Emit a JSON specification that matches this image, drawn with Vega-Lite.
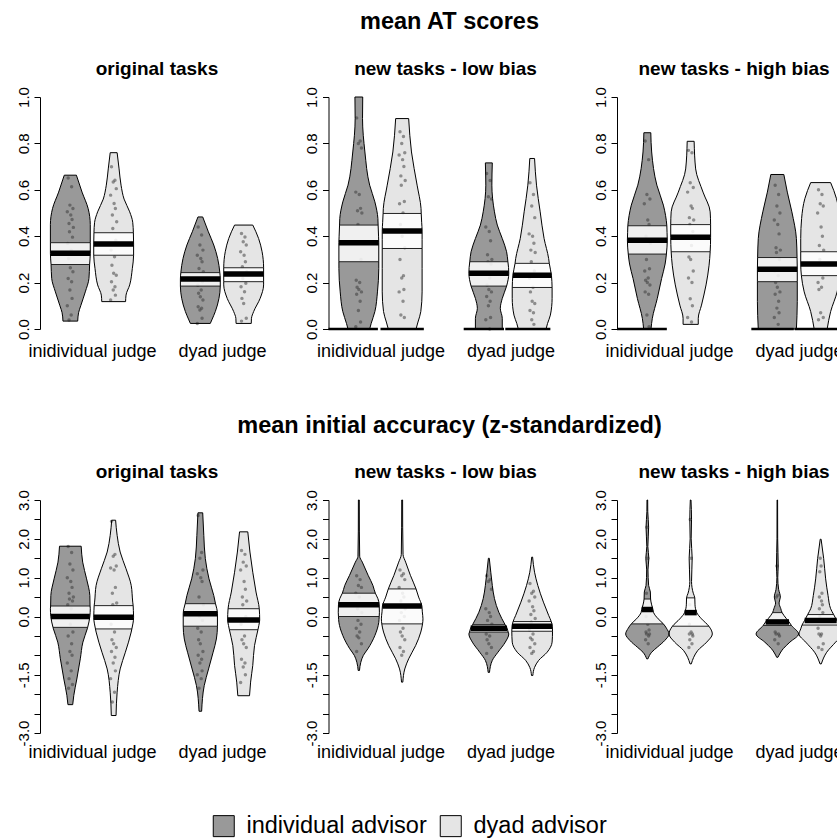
{
"$schema": "https://vega.github.io/schema/vega-lite/v6.json",
"padding": {"left": 16, "top": 9, "right": -14, "bottom": 0},
"background": "white",
"datasets": {"d": [
{"s":"A","p":"o","c":1,"a":"i","y":0.034,"l":0.83,"r":1.17,"k":"o"},
{"s":"A","p":"o","c":1,"a":"i","y":0.07,"l":0.81,"r":1.19,"k":"o"},
{"s":"A","p":"o","c":1,"a":"i","y":0.1,"l":0.76,"r":1.24,"k":"o"},
{"s":"A","p":"o","c":1,"a":"i","y":0.16,"l":0.655,"r":1.345,"k":"o"},
{"s":"A","p":"o","c":1,"a":"i","y":0.218,"l":0.57,"r":1.43,"k":"o"},
{"s":"A","p":"o","c":1,"a":"i","y":0.278,"l":0.555,"r":1.445,"k":"e"},
{"s":"A","p":"o","c":1,"a":"i","y":0.326,"l":0.54,"r":1.46,"k":"m"},
{"s":"A","p":"o","c":1,"a":"i","y":0.372,"l":0.54,"r":1.46,"k":"e"},
{"s":"A","p":"o","c":1,"a":"i","y":0.45,"l":0.54,"r":1.46,"k":"o"},
{"s":"A","p":"o","c":1,"a":"i","y":0.52,"l":0.59,"r":1.41,"k":"o"},
{"s":"A","p":"o","c":1,"a":"i","y":0.59,"l":0.73,"r":1.27,"k":"o"},
{"s":"A","p":"o","c":1,"a":"i","y":0.663,"l":0.86,"r":1.14,"k":"o"},
{"s":"A","p":"o","c":2,"a":"d","y":0.118,"l":1.725,"r":2.275,"k":"o"},
{"s":"A","p":"o","c":2,"a":"d","y":0.146,"l":1.715,"r":2.285,"k":"o"},
{"s":"A","p":"o","c":2,"a":"d","y":0.19,"l":1.63,"r":2.37,"k":"o"},
{"s":"A","p":"o","c":2,"a":"d","y":0.26,"l":1.57,"r":2.43,"k":"o"},
{"s":"A","p":"o","c":2,"a":"d","y":0.318,"l":1.54,"r":2.46,"k":"e"},
{"s":"A","p":"o","c":2,"a":"d","y":0.366,"l":1.54,"r":2.46,"k":"m"},
{"s":"A","p":"o","c":2,"a":"d","y":0.415,"l":1.545,"r":2.455,"k":"e"},
{"s":"A","p":"o","c":2,"a":"d","y":0.46,"l":1.56,"r":2.44,"k":"o"},
{"s":"A","p":"o","c":2,"a":"d","y":0.505,"l":1.63,"r":2.37,"k":"o"},
{"s":"A","p":"o","c":2,"a":"d","y":0.56,"l":1.76,"r":2.24,"k":"o"},
{"s":"A","p":"o","c":2,"a":"d","y":0.62,"l":1.83,"r":2.17,"k":"o"},
{"s":"A","p":"o","c":2,"a":"d","y":0.69,"l":1.875,"r":2.125,"k":"o"},
{"s":"A","p":"o","c":2,"a":"d","y":0.76,"l":1.92,"r":2.08,"k":"o"},
{"s":"A","p":"o","c":4,"a":"i","y":0.024,"l":3.77,"r":4.23,"k":"o"},
{"s":"A","p":"o","c":4,"a":"i","y":0.039,"l":3.735,"r":4.265,"k":"o"},
{"s":"A","p":"o","c":4,"a":"i","y":0.075,"l":3.655,"r":4.345,"k":"o"},
{"s":"A","p":"o","c":4,"a":"i","y":0.132,"l":3.57,"r":4.43,"k":"o"},
{"s":"A","p":"o","c":4,"a":"i","y":0.185,"l":3.54,"r":4.46,"k":"e"},
{"s":"A","p":"o","c":4,"a":"i","y":0.215,"l":3.54,"r":4.46,"k":"m"},
{"s":"A","p":"o","c":4,"a":"i","y":0.243,"l":3.55,"r":4.45,"k":"e"},
{"s":"A","p":"o","c":4,"a":"i","y":0.304,"l":3.6,"r":4.4,"k":"o"},
{"s":"A","p":"o","c":4,"a":"i","y":0.362,"l":3.69,"r":4.31,"k":"o"},
{"s":"A","p":"o","c":4,"a":"i","y":0.419,"l":3.815,"r":4.185,"k":"o"},
{"s":"A","p":"o","c":4,"a":"i","y":0.483,"l":3.945,"r":4.055,"k":"o"},
{"s":"A","p":"o","c":5,"a":"d","y":0.024,"l":4.825,"r":5.175,"k":"o"},
{"s":"A","p":"o","c":5,"a":"d","y":0.046,"l":4.82,"r":5.18,"k":"o"},
{"s":"A","p":"o","c":5,"a":"d","y":0.075,"l":4.77,"r":5.23,"k":"o"},
{"s":"A","p":"o","c":5,"a":"d","y":0.132,"l":4.62,"r":5.38,"k":"o"},
{"s":"A","p":"o","c":5,"a":"d","y":0.19,"l":4.54,"r":5.46,"k":"o"},
{"s":"A","p":"o","c":5,"a":"d","y":0.204,"l":4.54,"r":5.46,"k":"e"},
{"s":"A","p":"o","c":5,"a":"d","y":0.237,"l":4.54,"r":5.46,"k":"m"},
{"s":"A","p":"o","c":5,"a":"d","y":0.264,"l":4.54,"r":5.46,"k":"e"},
{"s":"A","p":"o","c":5,"a":"d","y":0.333,"l":4.575,"r":5.425,"k":"o"},
{"s":"A","p":"o","c":5,"a":"d","y":0.39,"l":4.655,"r":5.345,"k":"o"},
{"s":"A","p":"o","c":5,"a":"d","y":0.448,"l":4.79,"r":5.21,"k":"o"},
{"s":"A","p":"l","c":1,"a":"i","y":0.0,"l":0.75,"r":1.25,"k":"o"},
{"s":"A","p":"l","c":1,"a":"i","y":0.024,"l":0.715,"r":1.285,"k":"o"},
{"s":"A","p":"l","c":1,"a":"i","y":0.075,"l":0.63,"r":1.37,"k":"o"},
{"s":"A","p":"l","c":1,"a":"i","y":0.16,"l":0.57,"r":1.43,"k":"o"},
{"s":"A","p":"l","c":1,"a":"i","y":0.26,"l":0.54,"r":1.46,"k":"o"},
{"s":"A","p":"l","c":1,"a":"i","y":0.29,"l":0.54,"r":1.46,"k":"e"},
{"s":"A","p":"l","c":1,"a":"i","y":0.372,"l":0.54,"r":1.46,"k":"m"},
{"s":"A","p":"l","c":1,"a":"i","y":0.4,"l":0.545,"r":1.455,"k":"i"},
{"s":"A","p":"l","c":1,"a":"i","y":0.448,"l":0.555,"r":1.445,"k":"e"},
{"s":"A","p":"l","c":1,"a":"i","y":0.476,"l":0.56,"r":1.44,"k":"o"},
{"s":"A","p":"l","c":1,"a":"i","y":0.548,"l":0.63,"r":1.37,"k":"o"},
{"s":"A","p":"l","c":1,"a":"i","y":0.62,"l":0.75,"r":1.25,"k":"o"},
{"s":"A","p":"l","c":1,"a":"i","y":0.763,"l":0.86,"r":1.14,"k":"o"},
{"s":"A","p":"l","c":1,"a":"i","y":0.907,"l":0.915,"r":1.085,"k":"o"},
{"s":"A","p":"l","c":1,"a":"i","y":1.0,"l":0.91,"r":1.09,"k":"o"},
{"s":"A","p":"l","c":2,"a":"d","y":0.0,"l":1.68,"r":2.32,"k":"o"},
{"s":"A","p":"l","c":2,"a":"d","y":0.03,"l":1.635,"r":2.365,"k":"o"},
{"s":"A","p":"l","c":2,"a":"d","y":0.075,"l":1.57,"r":2.43,"k":"o"},
{"s":"A","p":"l","c":2,"a":"d","y":0.16,"l":1.54,"r":2.46,"k":"o"},
{"s":"A","p":"l","c":2,"a":"d","y":0.26,"l":1.54,"r":2.46,"k":"o"},
{"s":"A","p":"l","c":2,"a":"d","y":0.347,"l":1.54,"r":2.46,"k":"e"},
{"s":"A","p":"l","c":2,"a":"d","y":0.385,"l":1.54,"r":2.46,"k":"i"},
{"s":"A","p":"l","c":2,"a":"d","y":0.422,"l":1.54,"r":2.46,"k":"m"},
{"s":"A","p":"l","c":2,"a":"d","y":0.46,"l":1.55,"r":2.45,"k":"i"},
{"s":"A","p":"l","c":2,"a":"d","y":0.498,"l":1.56,"r":2.44,"k":"e"},
{"s":"A","p":"l","c":2,"a":"d","y":0.52,"l":1.565,"r":2.435,"k":"o"},
{"s":"A","p":"l","c":2,"a":"d","y":0.62,"l":1.655,"r":2.345,"k":"o"},
{"s":"A","p":"l","c":2,"a":"d","y":0.763,"l":1.785,"r":2.215,"k":"o"},
{"s":"A","p":"l","c":2,"a":"d","y":0.907,"l":1.85,"r":2.15,"k":"o"},
{"s":"A","p":"l","c":4,"a":"i","y":0.0,"l":3.69,"r":4.31,"k":"o"},
{"s":"A","p":"l","c":4,"a":"i","y":0.046,"l":3.69,"r":4.31,"k":"o"},
{"s":"A","p":"l","c":4,"a":"i","y":0.089,"l":3.735,"r":4.265,"k":"o"},
{"s":"A","p":"l","c":4,"a":"i","y":0.132,"l":3.69,"r":4.31,"k":"o"},
{"s":"A","p":"l","c":4,"a":"i","y":0.185,"l":3.59,"r":4.41,"k":"e"},
{"s":"A","p":"l","c":4,"a":"i","y":0.24,"l":3.54,"r":4.46,"k":"m"},
{"s":"A","p":"l","c":4,"a":"i","y":0.265,"l":3.545,"r":4.455,"k":"i"},
{"s":"A","p":"l","c":4,"a":"i","y":0.29,"l":3.56,"r":4.44,"k":"e"},
{"s":"A","p":"l","c":4,"a":"i","y":0.333,"l":3.59,"r":4.41,"k":"o"},
{"s":"A","p":"l","c":4,"a":"i","y":0.39,"l":3.69,"r":4.31,"k":"o"},
{"s":"A","p":"l","c":4,"a":"i","y":0.448,"l":3.805,"r":4.195,"k":"o"},
{"s":"A","p":"l","c":4,"a":"i","y":0.505,"l":3.87,"r":4.13,"k":"o"},
{"s":"A","p":"l","c":4,"a":"i","y":0.62,"l":3.93,"r":4.07,"k":"o"},
{"s":"A","p":"l","c":4,"a":"i","y":0.716,"l":3.92,"r":4.08,"k":"o"},
{"s":"A","p":"l","c":5,"a":"d","y":0.0,"l":4.68,"r":5.32,"k":"o"},
{"s":"A","p":"l","c":5,"a":"d","y":0.024,"l":4.645,"r":5.355,"k":"o"},
{"s":"A","p":"l","c":5,"a":"d","y":0.06,"l":4.58,"r":5.42,"k":"o"},
{"s":"A","p":"l","c":5,"a":"d","y":0.132,"l":4.54,"r":5.46,"k":"o"},
{"s":"A","p":"l","c":5,"a":"d","y":0.179,"l":4.54,"r":5.46,"k":"e"},
{"s":"A","p":"l","c":5,"a":"d","y":0.205,"l":4.545,"r":5.455,"k":"i"},
{"s":"A","p":"l","c":5,"a":"d","y":0.232,"l":4.555,"r":5.445,"k":"m"},
{"s":"A","p":"l","c":5,"a":"d","y":0.258,"l":4.58,"r":5.42,"k":"i"},
{"s":"A","p":"l","c":5,"a":"d","y":0.283,"l":4.605,"r":5.395,"k":"e"},
{"s":"A","p":"l","c":5,"a":"d","y":0.304,"l":4.62,"r":5.38,"k":"o"},
{"s":"A","p":"l","c":5,"a":"d","y":0.39,"l":4.725,"r":5.275,"k":"o"},
{"s":"A","p":"l","c":5,"a":"d","y":0.505,"l":4.815,"r":5.185,"k":"o"},
{"s":"A","p":"l","c":5,"a":"d","y":0.62,"l":4.9,"r":5.1,"k":"o"},
{"s":"A","p":"l","c":5,"a":"d","y":0.735,"l":4.945,"r":5.055,"k":"o"},
{"s":"A","p":"h","c":1,"a":"i","y":0.0,"l":0.915,"r":1.085,"k":"o"},
{"s":"A","p":"h","c":1,"a":"i","y":0.046,"l":0.885,"r":1.115,"k":"o"},
{"s":"A","p":"h","c":1,"a":"i","y":0.132,"l":0.77,"r":1.23,"k":"o"},
{"s":"A","p":"h","c":1,"a":"i","y":0.218,"l":0.67,"r":1.33,"k":"o"},
{"s":"A","p":"h","c":1,"a":"i","y":0.28,"l":0.59,"r":1.41,"k":"o"},
{"s":"A","p":"h","c":1,"a":"i","y":0.323,"l":0.56,"r":1.44,"k":"e"},
{"s":"A","p":"h","c":1,"a":"i","y":0.383,"l":0.54,"r":1.46,"k":"m"},
{"s":"A","p":"h","c":1,"a":"i","y":0.415,"l":0.545,"r":1.455,"k":"i"},
{"s":"A","p":"h","c":1,"a":"i","y":0.445,"l":0.55,"r":1.45,"k":"e"},
{"s":"A","p":"h","c":1,"a":"i","y":0.49,"l":0.58,"r":1.42,"k":"o"},
{"s":"A","p":"h","c":1,"a":"i","y":0.534,"l":0.63,"r":1.37,"k":"o"},
{"s":"A","p":"h","c":1,"a":"i","y":0.62,"l":0.78,"r":1.22,"k":"o"},
{"s":"A","p":"h","c":1,"a":"i","y":0.763,"l":0.9,"r":1.1,"k":"o"},
{"s":"A","p":"h","c":1,"a":"i","y":0.846,"l":0.92,"r":1.08,"k":"o"},
{"s":"A","p":"h","c":2,"a":"d","y":0.02,"l":1.825,"r":2.175,"k":"o"},
{"s":"A","p":"h","c":2,"a":"d","y":0.046,"l":1.825,"r":2.175,"k":"o"},
{"s":"A","p":"h","c":2,"a":"d","y":0.103,"l":1.75,"r":2.25,"k":"o"},
{"s":"A","p":"h","c":2,"a":"d","y":0.19,"l":1.645,"r":2.355,"k":"o"},
{"s":"A","p":"h","c":2,"a":"d","y":0.275,"l":1.575,"r":2.425,"k":"o"},
{"s":"A","p":"h","c":2,"a":"d","y":0.333,"l":1.55,"r":2.45,"k":"e"},
{"s":"A","p":"h","c":2,"a":"d","y":0.395,"l":1.54,"r":2.46,"k":"m"},
{"s":"A","p":"h","c":2,"a":"d","y":0.45,"l":1.54,"r":2.46,"k":"e"},
{"s":"A","p":"h","c":2,"a":"d","y":0.505,"l":1.55,"r":2.45,"k":"o"},
{"s":"A","p":"h","c":2,"a":"d","y":0.59,"l":1.715,"r":2.285,"k":"o"},
{"s":"A","p":"h","c":2,"a":"d","y":0.69,"l":1.885,"r":2.115,"k":"o"},
{"s":"A","p":"h","c":2,"a":"d","y":0.809,"l":1.92,"r":2.08,"k":"o"},
{"s":"A","p":"h","c":4,"a":"i","y":0.0,"l":3.56,"r":4.44,"k":"o"},
{"s":"A","p":"h","c":4,"a":"i","y":0.118,"l":3.54,"r":4.46,"k":"o"},
{"s":"A","p":"h","c":4,"a":"i","y":0.204,"l":3.54,"r":4.46,"k":"e"},
{"s":"A","p":"h","c":4,"a":"i","y":0.258,"l":3.54,"r":4.46,"k":"m"},
{"s":"A","p":"h","c":4,"a":"i","y":0.308,"l":3.545,"r":4.455,"k":"e"},
{"s":"A","p":"h","c":4,"a":"i","y":0.39,"l":3.56,"r":4.44,"k":"o"},
{"s":"A","p":"h","c":4,"a":"i","y":0.505,"l":3.665,"r":4.335,"k":"o"},
{"s":"A","p":"h","c":4,"a":"i","y":0.59,"l":3.77,"r":4.23,"k":"o"},
{"s":"A","p":"h","c":4,"a":"i","y":0.666,"l":3.85,"r":4.15,"k":"o"},
{"s":"A","p":"h","c":5,"a":"d","y":0.0,"l":4.85,"r":5.15,"k":"o"},
{"s":"A","p":"h","c":5,"a":"d","y":0.075,"l":4.77,"r":5.23,"k":"o"},
{"s":"A","p":"h","c":5,"a":"d","y":0.16,"l":4.62,"r":5.38,"k":"o"},
{"s":"A","p":"h","c":5,"a":"d","y":0.23,"l":4.555,"r":5.445,"k":"e"},
{"s":"A","p":"h","c":5,"a":"d","y":0.28,"l":4.54,"r":5.46,"k":"m"},
{"s":"A","p":"h","c":5,"a":"d","y":0.333,"l":4.54,"r":5.46,"k":"e"},
{"s":"A","p":"h","c":5,"a":"d","y":0.39,"l":4.54,"r":5.46,"k":"o"},
{"s":"A","p":"h","c":5,"a":"d","y":0.476,"l":4.56,"r":5.44,"k":"o"},
{"s":"A","p":"h","c":5,"a":"d","y":0.562,"l":4.635,"r":5.365,"k":"o"},
{"s":"A","p":"h","c":5,"a":"d","y":0.631,"l":4.77,"r":5.23,"k":"o"},
{"s":"Z","p":"o","c":1,"a":"i","y":-2.27,"l":0.945,"r":1.055,"k":"o"},
{"s":"Z","p":"o","c":1,"a":"i","y":-2.03,"l":0.92,"r":1.08,"k":"o"},
{"s":"Z","p":"o","c":1,"a":"i","y":-1.61,"l":0.85,"r":1.15,"k":"o"},
{"s":"Z","p":"o","c":1,"a":"i","y":-1.09,"l":0.77,"r":1.23,"k":"o"},
{"s":"Z","p":"o","c":1,"a":"i","y":-0.66,"l":0.71,"r":1.29,"k":"o"},
{"s":"Z","p":"o","c":1,"a":"i","y":-0.32,"l":0.61,"r":1.39,"k":"o"},
{"s":"Z","p":"o","c":1,"a":"i","y":-0.28,"l":0.6,"r":1.4,"k":"e"},
{"s":"Z","p":"o","c":1,"a":"i","y":0.0,"l":0.55,"r":1.45,"k":"m"},
{"s":"Z","p":"o","c":1,"a":"i","y":0.2,"l":0.54,"r":1.46,"k":"i"},
{"s":"Z","p":"o","c":1,"a":"i","y":0.27,"l":0.545,"r":1.455,"k":"e"},
{"s":"Z","p":"o","c":1,"a":"i","y":0.54,"l":0.55,"r":1.45,"k":"o"},
{"s":"Z","p":"o","c":1,"a":"i","y":0.97,"l":0.625,"r":1.375,"k":"o"},
{"s":"Z","p":"o","c":1,"a":"i","y":1.4,"l":0.715,"r":1.285,"k":"o"},
{"s":"Z","p":"o","c":1,"a":"i","y":1.81,"l":0.75,"r":1.25,"k":"o"},
{"s":"Z","p":"o","c":2,"a":"d","y":-2.55,"l":1.945,"r":2.055,"k":"o"},
{"s":"Z","p":"o","c":2,"a":"d","y":-1.95,"l":1.92,"r":2.08,"k":"o"},
{"s":"Z","p":"o","c":2,"a":"d","y":-1.35,"l":1.85,"r":2.15,"k":"o"},
{"s":"Z","p":"o","c":2,"a":"d","y":-0.92,"l":1.73,"r":2.27,"k":"o"},
{"s":"Z","p":"o","c":2,"a":"d","y":-0.4,"l":1.595,"r":2.405,"k":"o"},
{"s":"Z","p":"o","c":2,"a":"d","y":-0.32,"l":1.58,"r":2.42,"k":"e"},
{"s":"Z","p":"o","c":2,"a":"d","y":-0.02,"l":1.54,"r":2.46,"k":"m"},
{"s":"Z","p":"o","c":2,"a":"d","y":0.15,"l":1.545,"r":2.455,"k":"i"},
{"s":"Z","p":"o","c":2,"a":"d","y":0.28,"l":1.55,"r":2.45,"k":"e"},
{"s":"Z","p":"o","c":2,"a":"d","y":0.37,"l":1.56,"r":2.44,"k":"o"},
{"s":"Z","p":"o","c":2,"a":"d","y":0.8,"l":1.595,"r":2.405,"k":"o"},
{"s":"Z","p":"o","c":2,"a":"d","y":1.23,"l":1.715,"r":2.285,"k":"o"},
{"s":"Z","p":"o","c":2,"a":"d","y":1.66,"l":1.85,"r":2.15,"k":"o"},
{"s":"Z","p":"o","c":2,"a":"d","y":2.09,"l":1.92,"r":2.08,"k":"o"},
{"s":"Z","p":"o","c":2,"a":"d","y":2.48,"l":1.955,"r":2.045,"k":"o"},
{"s":"Z","p":"o","c":4,"a":"i","y":-2.44,"l":3.97,"r":4.03,"k":"o"},
{"s":"Z","p":"o","c":4,"a":"i","y":-1.78,"l":3.91,"r":4.09,"k":"o"},
{"s":"Z","p":"o","c":4,"a":"i","y":-1.35,"l":3.81,"r":4.19,"k":"o"},
{"s":"Z","p":"o","c":4,"a":"i","y":-0.92,"l":3.705,"r":4.295,"k":"o"},
{"s":"Z","p":"o","c":4,"a":"i","y":-0.58,"l":3.63,"r":4.37,"k":"o"},
{"s":"Z","p":"o","c":4,"a":"i","y":-0.25,"l":3.605,"r":4.395,"k":"e"},
{"s":"Z","p":"o","c":4,"a":"i","y":0.07,"l":3.605,"r":4.395,"k":"m"},
{"s":"Z","p":"o","c":4,"a":"i","y":0.2,"l":3.62,"r":4.38,"k":"i"},
{"s":"Z","p":"o","c":4,"a":"i","y":0.33,"l":3.65,"r":4.35,"k":"e"},
{"s":"Z","p":"o","c":4,"a":"i","y":0.54,"l":3.69,"r":4.31,"k":"o"},
{"s":"Z","p":"o","c":4,"a":"i","y":0.97,"l":3.8,"r":4.2,"k":"o"},
{"s":"Z","p":"o","c":4,"a":"i","y":1.49,"l":3.885,"r":4.115,"k":"o"},
{"s":"Z","p":"o","c":4,"a":"i","y":2.09,"l":3.92,"r":4.08,"k":"o"},
{"s":"Z","p":"o","c":4,"a":"i","y":2.67,"l":3.945,"r":4.055,"k":"o"},
{"s":"Z","p":"o","c":5,"a":"d","y":-2.04,"l":4.865,"r":5.135,"k":"o"},
{"s":"Z","p":"o","c":5,"a":"d","y":-1.69,"l":4.84,"r":5.16,"k":"o"},
{"s":"Z","p":"o","c":5,"a":"d","y":-1.26,"l":4.79,"r":5.21,"k":"o"},
{"s":"Z","p":"o","c":5,"a":"d","y":-0.75,"l":4.75,"r":5.25,"k":"o"},
{"s":"Z","p":"o","c":5,"a":"d","y":-0.34,"l":4.67,"r":5.33,"k":"e"},
{"s":"Z","p":"o","c":5,"a":"d","y":-0.23,"l":4.65,"r":5.35,"k":"i"},
{"s":"Z","p":"o","c":5,"a":"d","y":-0.09,"l":4.63,"r":5.37,"k":"m"},
{"s":"Z","p":"o","c":5,"a":"d","y":0.2,"l":4.64,"r":5.36,"k":"e"},
{"s":"Z","p":"o","c":5,"a":"d","y":0.63,"l":4.715,"r":5.285,"k":"o"},
{"s":"Z","p":"o","c":5,"a":"d","y":1.14,"l":4.79,"r":5.21,"k":"o"},
{"s":"Z","p":"o","c":5,"a":"d","y":1.66,"l":4.855,"r":5.145,"k":"o"},
{"s":"Z","p":"o","c":5,"a":"d","y":2.18,"l":4.905,"r":5.095,"k":"o"},
{"s":"Z","p":"l","c":1,"a":"i","y":-1.39,"l":0.985,"r":1.015,"k":"o"},
{"s":"Z","p":"l","c":1,"a":"i","y":-1.18,"l":0.955,"r":1.045,"k":"o"},
{"s":"Z","p":"l","c":1,"a":"i","y":-1.0,"l":0.895,"r":1.105,"k":"o"},
{"s":"Z","p":"l","c":1,"a":"i","y":-0.83,"l":0.79,"r":1.21,"k":"o"},
{"s":"Z","p":"l","c":1,"a":"i","y":-0.49,"l":0.63,"r":1.37,"k":"o"},
{"s":"Z","p":"l","c":1,"a":"i","y":-0.15,"l":0.54,"r":1.46,"k":"o"},
{"s":"Z","p":"l","c":1,"a":"i","y":0.0,"l":0.53,"r":1.47,"k":"e"},
{"s":"Z","p":"l","c":1,"a":"i","y":0.11,"l":0.525,"r":1.475,"k":"i"},
{"s":"Z","p":"l","c":1,"a":"i","y":0.3,"l":0.53,"r":1.47,"k":"m"},
{"s":"Z","p":"l","c":1,"a":"i","y":0.46,"l":0.56,"r":1.44,"k":"i"},
{"s":"Z","p":"l","c":1,"a":"i","y":0.6,"l":0.62,"r":1.38,"k":"e"},
{"s":"Z","p":"l","c":1,"a":"i","y":0.8,"l":0.675,"r":1.325,"k":"o"},
{"s":"Z","p":"l","c":1,"a":"i","y":1.06,"l":0.785,"r":1.215,"k":"o"},
{"s":"Z","p":"l","c":1,"a":"i","y":1.4,"l":0.92,"r":1.08,"k":"o"},
{"s":"Z","p":"l","c":1,"a":"i","y":1.55,"l":0.98,"r":1.02,"k":"o"},
{"s":"Z","p":"l","c":1,"a":"i","y":2.2,"l":0.988,"r":1.012,"k":"o"},
{"s":"Z","p":"l","c":1,"a":"i","y":3.0,"l":0.99,"r":1.01,"k":"o"},
{"s":"Z","p":"l","c":2,"a":"d","y":-1.69,"l":1.985,"r":2.015,"k":"o"},
{"s":"Z","p":"l","c":2,"a":"d","y":-1.35,"l":1.94,"r":2.06,"k":"o"},
{"s":"Z","p":"l","c":2,"a":"d","y":-1.09,"l":1.85,"r":2.15,"k":"o"},
{"s":"Z","p":"l","c":2,"a":"d","y":-0.75,"l":1.69,"r":2.31,"k":"o"},
{"s":"Z","p":"l","c":2,"a":"d","y":-0.4,"l":1.57,"r":2.43,"k":"o"},
{"s":"Z","p":"l","c":2,"a":"d","y":-0.19,"l":1.53,"r":2.47,"k":"e"},
{"s":"Z","p":"l","c":2,"a":"d","y":-0.06,"l":1.52,"r":2.48,"k":"i"},
{"s":"Z","p":"l","c":2,"a":"d","y":0.12,"l":1.535,"r":2.465,"k":"i"},
{"s":"Z","p":"l","c":2,"a":"d","y":0.27,"l":1.545,"r":2.455,"k":"m"},
{"s":"Z","p":"l","c":2,"a":"d","y":0.5,"l":1.62,"r":2.38,"k":"i"},
{"s":"Z","p":"l","c":2,"a":"d","y":0.71,"l":1.68,"r":2.32,"k":"e"},
{"s":"Z","p":"l","c":2,"a":"d","y":1.06,"l":1.81,"r":2.19,"k":"o"},
{"s":"Z","p":"l","c":2,"a":"d","y":1.4,"l":1.92,"r":2.08,"k":"o"},
{"s":"Z","p":"l","c":2,"a":"d","y":1.6,"l":1.98,"r":2.02,"k":"o"},
{"s":"Z","p":"l","c":2,"a":"d","y":2.3,"l":1.988,"r":2.012,"k":"o"},
{"s":"Z","p":"l","c":2,"a":"d","y":3.0,"l":1.99,"r":2.01,"k":"o"},
{"s":"Z","p":"l","c":4,"a":"i","y":-1.44,"l":3.985,"r":4.015,"k":"o"},
{"s":"Z","p":"l","c":4,"a":"i","y":-1.13,"l":3.92,"r":4.08,"k":"o"},
{"s":"Z","p":"l","c":4,"a":"i","y":-0.92,"l":3.79,"r":4.21,"k":"o"},
{"s":"Z","p":"l","c":4,"a":"i","y":-0.66,"l":3.62,"r":4.38,"k":"o"},
{"s":"Z","p":"l","c":4,"a":"i","y":-0.45,"l":3.54,"r":4.46,"k":"o"},
{"s":"Z","p":"l","c":4,"a":"i","y":-0.4,"l":3.555,"r":4.445,"k":"e"},
{"s":"Z","p":"l","c":4,"a":"i","y":-0.3,"l":3.58,"r":4.42,"k":"m"},
{"s":"Z","p":"l","c":4,"a":"i","y":-0.21,"l":3.625,"r":4.375,"k":"e"},
{"s":"Z","p":"l","c":4,"a":"i","y":0.11,"l":3.77,"r":4.23,"k":"o"},
{"s":"Z","p":"l","c":4,"a":"i","y":0.46,"l":3.87,"r":4.13,"k":"o"},
{"s":"Z","p":"l","c":4,"a":"i","y":0.8,"l":3.92,"r":4.08,"k":"o"},
{"s":"Z","p":"l","c":4,"a":"i","y":1.14,"l":3.955,"r":4.045,"k":"o"},
{"s":"Z","p":"l","c":4,"a":"i","y":1.5,"l":3.99,"r":4.01,"k":"o"},
{"s":"Z","p":"l","c":5,"a":"d","y":-1.52,"l":4.985,"r":5.015,"k":"o"},
{"s":"Z","p":"l","c":5,"a":"d","y":-1.31,"l":4.945,"r":5.055,"k":"o"},
{"s":"Z","p":"l","c":5,"a":"d","y":-1.13,"l":4.85,"r":5.15,"k":"o"},
{"s":"Z","p":"l","c":5,"a":"d","y":-0.92,"l":4.655,"r":5.345,"k":"o"},
{"s":"Z","p":"l","c":5,"a":"d","y":-0.66,"l":4.54,"r":5.46,"k":"o"},
{"s":"Z","p":"l","c":5,"a":"d","y":-0.38,"l":4.53,"r":5.47,"k":"e"},
{"s":"Z","p":"l","c":5,"a":"d","y":-0.25,"l":4.535,"r":5.465,"k":"m"},
{"s":"Z","p":"l","c":5,"a":"d","y":-0.13,"l":4.56,"r":5.44,"k":"e"},
{"s":"Z","p":"l","c":5,"a":"d","y":0.03,"l":4.62,"r":5.38,"k":"o"},
{"s":"Z","p":"l","c":5,"a":"d","y":0.37,"l":4.74,"r":5.26,"k":"o"},
{"s":"Z","p":"l","c":5,"a":"d","y":0.8,"l":4.87,"r":5.13,"k":"o"},
{"s":"Z","p":"l","c":5,"a":"d","y":1.14,"l":4.945,"r":5.055,"k":"o"},
{"s":"Z","p":"l","c":5,"a":"d","y":1.53,"l":4.99,"r":5.01,"k":"o"},
{"s":"Z","p":"h","c":1,"a":"i","y":-1.09,"l":0.985,"r":1.015,"k":"o"},
{"s":"Z","p":"h","c":1,"a":"i","y":-0.92,"l":0.9,"r":1.1,"k":"o"},
{"s":"Z","p":"h","c":1,"a":"i","y":-0.79,"l":0.77,"r":1.23,"k":"o"},
{"s":"Z","p":"h","c":1,"a":"i","y":-0.62,"l":0.6,"r":1.4,"k":"o"},
{"s":"Z","p":"h","c":1,"a":"i","y":-0.45,"l":0.5,"r":1.5,"k":"o"},
{"s":"Z","p":"h","c":1,"a":"i","y":-0.3,"l":0.56,"r":1.44,"k":"o"},
{"s":"Z","p":"h","c":1,"a":"i","y":-0.19,"l":0.63,"r":1.37,"k":"e"},
{"s":"Z","p":"h","c":1,"a":"i","y":-0.06,"l":0.75,"r":1.25,"k":"i"},
{"s":"Z","p":"h","c":1,"a":"i","y":0.1,"l":0.855,"r":1.145,"k":"i"},
{"s":"Z","p":"h","c":1,"a":"i","y":0.18,"l":0.87,"r":1.13,"k":"m"},
{"s":"Z","p":"h","c":1,"a":"i","y":0.3,"l":0.9,"r":1.1,"k":"i"},
{"s":"Z","p":"h","c":1,"a":"i","y":0.45,"l":0.925,"r":1.075,"k":"e"},
{"s":"Z","p":"h","c":1,"a":"i","y":0.63,"l":0.93,"r":1.07,"k":"o"},
{"s":"Z","p":"h","c":1,"a":"i","y":0.8,"l":0.97,"r":1.03,"k":"o"},
{"s":"Z","p":"h","c":1,"a":"i","y":1.2,"l":0.985,"r":1.015,"k":"o"},
{"s":"Z","p":"h","c":1,"a":"i","y":1.5,"l":0.965,"r":1.035,"k":"o"},
{"s":"Z","p":"h","c":1,"a":"i","y":1.8,"l":0.988,"r":1.012,"k":"o"},
{"s":"Z","p":"h","c":1,"a":"i","y":2.3,"l":0.97,"r":1.03,"k":"o"},
{"s":"Z","p":"h","c":1,"a":"i","y":2.7,"l":0.99,"r":1.01,"k":"o"},
{"s":"Z","p":"h","c":1,"a":"i","y":3.0,"l":0.992,"r":1.008,"k":"o"},
{"s":"Z","p":"h","c":2,"a":"d","y":-1.22,"l":1.985,"r":2.015,"k":"o"},
{"s":"Z","p":"h","c":2,"a":"d","y":-1.05,"l":1.93,"r":2.07,"k":"o"},
{"s":"Z","p":"h","c":2,"a":"d","y":-0.88,"l":1.84,"r":2.16,"k":"o"},
{"s":"Z","p":"h","c":2,"a":"d","y":-0.66,"l":1.63,"r":2.37,"k":"o"},
{"s":"Z","p":"h","c":2,"a":"d","y":-0.45,"l":1.5,"r":2.5,"k":"o"},
{"s":"Z","p":"h","c":2,"a":"d","y":-0.25,"l":1.58,"r":2.42,"k":"e"},
{"s":"Z","p":"h","c":2,"a":"d","y":-0.06,"l":1.75,"r":2.25,"k":"i"},
{"s":"Z","p":"h","c":2,"a":"d","y":0.1,"l":1.86,"r":2.14,"k":"m"},
{"s":"Z","p":"h","c":2,"a":"d","y":0.3,"l":1.9,"r":2.1,"k":"i"},
{"s":"Z","p":"h","c":2,"a":"d","y":0.48,"l":1.905,"r":2.095,"k":"e"},
{"s":"Z","p":"h","c":2,"a":"d","y":0.6,"l":1.94,"r":2.06,"k":"o"},
{"s":"Z","p":"h","c":2,"a":"d","y":0.9,"l":1.98,"r":2.02,"k":"o"},
{"s":"Z","p":"h","c":2,"a":"d","y":1.5,"l":1.965,"r":2.035,"k":"o"},
{"s":"Z","p":"h","c":2,"a":"d","y":2.0,"l":1.988,"r":2.012,"k":"o"},
{"s":"Z","p":"h","c":2,"a":"d","y":2.5,"l":1.98,"r":2.02,"k":"o"},
{"s":"Z","p":"h","c":2,"a":"d","y":3.0,"l":1.992,"r":2.008,"k":"o"},
{"s":"Z","p":"h","c":4,"a":"i","y":-1.05,"l":3.985,"r":4.015,"k":"o"},
{"s":"Z","p":"h","c":4,"a":"i","y":-0.83,"l":3.865,"r":4.135,"k":"o"},
{"s":"Z","p":"h","c":4,"a":"i","y":-0.66,"l":3.71,"r":4.29,"k":"o"},
{"s":"Z","p":"h","c":4,"a":"i","y":-0.45,"l":3.51,"r":4.49,"k":"o"},
{"s":"Z","p":"h","c":4,"a":"i","y":-0.23,"l":3.675,"r":4.325,"k":"e"},
{"s":"Z","p":"h","c":4,"a":"i","y":-0.14,"l":3.73,"r":4.27,"k":"m"},
{"s":"Z","p":"h","c":4,"a":"i","y":0.03,"l":3.85,"r":4.15,"k":"i"},
{"s":"Z","p":"h","c":4,"a":"i","y":0.1,"l":3.89,"r":4.11,"k":"e"},
{"s":"Z","p":"h","c":4,"a":"i","y":0.2,"l":3.92,"r":4.08,"k":"o"},
{"s":"Z","p":"h","c":4,"a":"i","y":0.35,"l":3.96,"r":4.04,"k":"o"},
{"s":"Z","p":"h","c":4,"a":"i","y":0.5,"l":3.93,"r":4.07,"k":"o"},
{"s":"Z","p":"h","c":4,"a":"i","y":0.7,"l":3.97,"r":4.03,"k":"o"},
{"s":"Z","p":"h","c":4,"a":"i","y":1.0,"l":3.99,"r":4.01,"k":"o"},
{"s":"Z","p":"h","c":4,"a":"i","y":1.3,"l":3.98,"r":4.02,"k":"o"},
{"s":"Z","p":"h","c":4,"a":"i","y":2.0,"l":3.992,"r":4.008,"k":"o"},
{"s":"Z","p":"h","c":4,"a":"i","y":3.0,"l":3.994,"r":4.006,"k":"o"},
{"s":"Z","p":"h","c":5,"a":"d","y":-1.22,"l":4.985,"r":5.015,"k":"o"},
{"s":"Z","p":"h","c":5,"a":"d","y":-0.92,"l":4.86,"r":5.14,"k":"o"},
{"s":"Z","p":"h","c":5,"a":"d","y":-0.66,"l":4.655,"r":5.345,"k":"o"},
{"s":"Z","p":"h","c":5,"a":"d","y":-0.45,"l":4.5,"r":5.5,"k":"o"},
{"s":"Z","p":"h","c":5,"a":"d","y":-0.32,"l":4.54,"r":5.46,"k":"o"},
{"s":"Z","p":"h","c":5,"a":"d","y":-0.22,"l":4.57,"r":5.43,"k":"e"},
{"s":"Z","p":"h","c":5,"a":"d","y":-0.1,"l":4.63,"r":5.37,"k":"m"},
{"s":"Z","p":"h","c":5,"a":"d","y":0.05,"l":4.7,"r":5.3,"k":"e"},
{"s":"Z","p":"h","c":5,"a":"d","y":0.2,"l":4.77,"r":5.23,"k":"o"},
{"s":"Z","p":"h","c":5,"a":"d","y":0.54,"l":4.83,"r":5.17,"k":"o"},
{"s":"Z","p":"h","c":5,"a":"d","y":0.97,"l":4.885,"r":5.115,"k":"o"},
{"s":"Z","p":"h","c":5,"a":"d","y":1.49,"l":4.93,"r":5.07,"k":"o"},
{"s":"Z","p":"h","c":5,"a":"d","y":1.99,"l":4.99,"r":5.01,"k":"o"},
{"s":"A","p":"l","l":0.3,"r":1.44,"y":0,"k":"z"},
{"s":"A","p":"l","l":1.5,"r":2.5,"y":0,"k":"z"},
{"s":"A","p":"l","l":3.42,"r":4.35,"y":0,"k":"z"},
{"s":"A","p":"l","l":4.38,"r":5.42,"y":0,"k":"z"},
{"s":"A","p":"h","l":0.3,"r":1.45,"y":0,"k":"z"},
{"s":"A","p":"h","l":3.4,"r":4.38,"y":0,"k":"z"},
{"s":"A","p":"h","l":4.4,"r":5.4,"y":0,"k":"z"},
{"s":"A","p":"o","l":0.95,"y":0.651,"k":"pt"},{"s":"A","p":"o","l":1.03,"y":0.613,"k":"pt"},{"s":"A","p":"o","l":0.99,"y":0.534,"k":"pt"},{"s":"A","p":"o","l":1.06,"y":0.519,"k":"pt"},{"s":"A","p":"o","l":0.93,"y":0.505,"k":"pt"},{"s":"A","p":"o","l":1.01,"y":0.491,"k":"pt"},{"s":"A","p":"o","l":1.04,"y":0.472,"k":"pt"},{"s":"A","p":"o","l":0.97,"y":0.455,"k":"pt"},{"s":"A","p":"o","l":1.07,"y":0.438,"k":"pt"},{"s":"A","p":"o","l":0.98,"y":0.419,"k":"pt"},{"s":"A","p":"o","l":1.05,"y":0.396,"k":"pt"},{"s":"A","p":"o","l":0.94,"y":0.369,"k":"pt"},{"s":"A","p":"o","l":1.02,"y":0.34,"k":"pt"},{"s":"A","p":"o","l":0.96,"y":0.304,"k":"pt"},{"s":"A","p":"o","l":1.0,"y":0.264,"k":"pt"},{"s":"A","p":"o","l":1.06,"y":0.247,"k":"pt"},{"s":"A","p":"o","l":0.95,"y":0.218,"k":"pt"},{"s":"A","p":"o","l":1.03,"y":0.204,"k":"pt"},{"s":"A","p":"o","l":0.99,"y":0.168,"k":"pt"},{"s":"A","p":"o","l":1.04,"y":0.132,"k":"pt"},{"s":"A","p":"o","l":0.93,"y":0.1,"k":"pt"},{"s":"A","p":"o","l":1.02,"y":0.06,"k":"pt"},{"s":"A","p":"o","l":0.97,"y":0.039,"k":"pt"},
{"s":"A","p":"o","l":1.95,"y":0.699,"k":"pt"},{"s":"A","p":"o","l":2.03,"y":0.641,"k":"pt"},{"s":"A","p":"o","l":1.99,"y":0.634,"k":"pt"},{"s":"A","p":"o","l":2.06,"y":0.605,"k":"pt"},{"s":"A","p":"o","l":1.93,"y":0.577,"k":"pt"},{"s":"A","p":"o","l":2.01,"y":0.541,"k":"pt"},{"s":"A","p":"o","l":2.04,"y":0.519,"k":"pt"},{"s":"A","p":"o","l":1.97,"y":0.491,"k":"pt"},{"s":"A","p":"o","l":2.07,"y":0.462,"k":"pt"},{"s":"A","p":"o","l":1.98,"y":0.433,"k":"pt"},{"s":"A","p":"o","l":2.05,"y":0.383,"k":"pt"},{"s":"A","p":"o","l":1.94,"y":0.34,"k":"pt"},{"s":"A","p":"o","l":2.02,"y":0.311,"k":"pt"},{"s":"A","p":"o","l":1.96,"y":0.275,"k":"pt"},{"s":"A","p":"o","l":2.0,"y":0.24,"k":"pt"},{"s":"A","p":"o","l":2.06,"y":0.232,"k":"pt"},{"s":"A","p":"o","l":1.95,"y":0.204,"k":"pt"},{"s":"A","p":"o","l":2.03,"y":0.182,"k":"pt"},{"s":"A","p":"o","l":1.99,"y":0.168,"k":"pt"},{"s":"A","p":"o","l":2.04,"y":0.146,"k":"pt"},{"s":"A","p":"o","l":1.93,"y":0.125,"k":"pt"},
{"s":"A","p":"o","l":3.95,"y":0.44,"k":"pt"},{"s":"A","p":"o","l":4.03,"y":0.405,"k":"pt"},{"s":"A","p":"o","l":3.99,"y":0.362,"k":"pt"},{"s":"A","p":"o","l":4.06,"y":0.34,"k":"pt"},{"s":"A","p":"o","l":3.93,"y":0.318,"k":"pt"},{"s":"A","p":"o","l":4.01,"y":0.304,"k":"pt"},{"s":"A","p":"o","l":4.04,"y":0.29,"k":"pt"},{"s":"A","p":"o","l":3.97,"y":0.261,"k":"pt"},{"s":"A","p":"o","l":4.07,"y":0.247,"k":"pt"},{"s":"A","p":"o","l":3.98,"y":0.218,"k":"pt"},{"s":"A","p":"o","l":4.05,"y":0.204,"k":"pt"},{"s":"A","p":"o","l":3.94,"y":0.189,"k":"pt"},{"s":"A","p":"o","l":4.02,"y":0.168,"k":"pt"},{"s":"A","p":"o","l":3.96,"y":0.154,"k":"pt"},{"s":"A","p":"o","l":4.0,"y":0.139,"k":"pt"},{"s":"A","p":"o","l":4.06,"y":0.125,"k":"pt"},{"s":"A","p":"o","l":3.95,"y":0.096,"k":"pt"},{"s":"A","p":"o","l":4.03,"y":0.089,"k":"pt"},{"s":"A","p":"o","l":3.99,"y":0.082,"k":"pt"},{"s":"A","p":"o","l":4.04,"y":0.046,"k":"pt"},{"s":"A","p":"o","l":3.93,"y":0.024,"k":"pt"},
{"s":"A","p":"o","l":4.95,"y":0.412,"k":"pt"},{"s":"A","p":"o","l":5.03,"y":0.397,"k":"pt"},{"s":"A","p":"o","l":4.99,"y":0.376,"k":"pt"},{"s":"A","p":"o","l":5.06,"y":0.362,"k":"pt"},{"s":"A","p":"o","l":4.93,"y":0.333,"k":"pt"},{"s":"A","p":"o","l":5.01,"y":0.318,"k":"pt"},{"s":"A","p":"o","l":5.04,"y":0.29,"k":"pt"},{"s":"A","p":"o","l":4.97,"y":0.268,"k":"pt"},{"s":"A","p":"o","l":5.07,"y":0.247,"k":"pt"},{"s":"A","p":"o","l":4.98,"y":0.218,"k":"pt"},{"s":"A","p":"o","l":5.05,"y":0.197,"k":"pt"},{"s":"A","p":"o","l":4.94,"y":0.182,"k":"pt"},{"s":"A","p":"o","l":5.02,"y":0.161,"k":"pt"},{"s":"A","p":"o","l":4.96,"y":0.132,"k":"pt"},{"s":"A","p":"o","l":5.0,"y":0.11,"k":"pt"},{"s":"A","p":"o","l":5.06,"y":0.046,"k":"pt"},{"s":"A","p":"o","l":4.95,"y":0.034,"k":"pt"},
{"s":"A","p":"l","l":0.95,"y":0.91,"k":"pt"},{"s":"A","p":"l","l":1.03,"y":0.81,"k":"pt"},{"s":"A","p":"l","l":0.99,"y":0.8,"k":"pt"},{"s":"A","p":"l","l":1.06,"y":0.78,"k":"pt"},{"s":"A","p":"l","l":0.93,"y":0.59,"k":"pt"},{"s":"A","p":"l","l":1.01,"y":0.58,"k":"pt"},{"s":"A","p":"l","l":1.04,"y":0.52,"k":"pt"},{"s":"A","p":"l","l":0.97,"y":0.51,"k":"pt"},{"s":"A","p":"l","l":1.07,"y":0.5,"k":"pt"},{"s":"A","p":"l","l":0.98,"y":0.45,"k":"pt"},{"s":"A","p":"l","l":1.05,"y":0.3,"k":"pt"},{"s":"A","p":"l","l":0.94,"y":0.21,"k":"pt"},{"s":"A","p":"l","l":1.02,"y":0.2,"k":"pt"},{"s":"A","p":"l","l":0.96,"y":0.18,"k":"pt"},{"s":"A","p":"l","l":1.0,"y":0.17,"k":"pt"},{"s":"A","p":"l","l":1.06,"y":0.16,"k":"pt"},{"s":"A","p":"l","l":0.95,"y":0.15,"k":"pt"},{"s":"A","p":"l","l":1.03,"y":0.12,"k":"pt"},{"s":"A","p":"l","l":0.99,"y":0.08,"k":"pt"},{"s":"A","p":"l","l":1.04,"y":0.03,"k":"pt"},{"s":"A","p":"l","l":0.93,"y":0.01,"k":"pt"},
{"s":"A","p":"l","l":1.95,"y":0.85,"k":"pt"},{"s":"A","p":"l","l":2.03,"y":0.83,"k":"pt"},{"s":"A","p":"l","l":1.99,"y":0.8,"k":"pt"},{"s":"A","p":"l","l":2.06,"y":0.76,"k":"pt"},{"s":"A","p":"l","l":1.93,"y":0.75,"k":"pt"},{"s":"A","p":"l","l":2.01,"y":0.73,"k":"pt"},{"s":"A","p":"l","l":2.04,"y":0.7,"k":"pt"},{"s":"A","p":"l","l":1.97,"y":0.66,"k":"pt"},{"s":"A","p":"l","l":2.07,"y":0.64,"k":"pt"},{"s":"A","p":"l","l":1.98,"y":0.62,"k":"pt"},{"s":"A","p":"l","l":2.05,"y":0.55,"k":"pt"},{"s":"A","p":"l","l":1.94,"y":0.54,"k":"pt"},{"s":"A","p":"l","l":2.02,"y":0.5,"k":"pt"},{"s":"A","p":"l","l":1.96,"y":0.45,"k":"pt"},{"s":"A","p":"l","l":2.0,"y":0.4,"k":"pt"},{"s":"A","p":"l","l":2.06,"y":0.35,"k":"pt"},{"s":"A","p":"l","l":1.95,"y":0.3,"k":"pt"},{"s":"A","p":"l","l":2.03,"y":0.23,"k":"pt"},{"s":"A","p":"l","l":1.99,"y":0.22,"k":"pt"},{"s":"A","p":"l","l":2.04,"y":0.17,"k":"pt"},{"s":"A","p":"l","l":1.93,"y":0.16,"k":"pt"},{"s":"A","p":"l","l":2.02,"y":0.12,"k":"pt"},{"s":"A","p":"l","l":1.97,"y":0.06,"k":"pt"},{"s":"A","p":"l","l":2.05,"y":0.05,"k":"pt"},
{"s":"A","p":"l","l":3.95,"y":0.67,"k":"pt"},{"s":"A","p":"l","l":4.03,"y":0.64,"k":"pt"},{"s":"A","p":"l","l":3.99,"y":0.57,"k":"pt"},{"s":"A","p":"l","l":4.06,"y":0.56,"k":"pt"},{"s":"A","p":"l","l":3.93,"y":0.44,"k":"pt"},{"s":"A","p":"l","l":4.01,"y":0.42,"k":"pt"},{"s":"A","p":"l","l":4.04,"y":0.38,"k":"pt"},{"s":"A","p":"l","l":3.97,"y":0.32,"k":"pt"},{"s":"A","p":"l","l":4.07,"y":0.3,"k":"pt"},{"s":"A","p":"l","l":3.98,"y":0.29,"k":"pt"},{"s":"A","p":"l","l":4.05,"y":0.28,"k":"pt"},{"s":"A","p":"l","l":3.94,"y":0.24,"k":"pt"},{"s":"A","p":"l","l":4.02,"y":0.22,"k":"pt"},{"s":"A","p":"l","l":3.96,"y":0.19,"k":"pt"},{"s":"A","p":"l","l":4.0,"y":0.17,"k":"pt"},{"s":"A","p":"l","l":4.06,"y":0.16,"k":"pt"},{"s":"A","p":"l","l":3.95,"y":0.14,"k":"pt"},{"s":"A","p":"l","l":4.03,"y":0.12,"k":"pt"},{"s":"A","p":"l","l":3.99,"y":0.1,"k":"pt"},{"s":"A","p":"l","l":4.04,"y":0.05,"k":"pt"},{"s":"A","p":"l","l":3.93,"y":0.04,"k":"pt"},{"s":"A","p":"l","l":4.02,"y":0.0,"k":"pt"},
{"s":"A","p":"l","l":4.95,"y":0.63,"k":"pt"},{"s":"A","p":"l","l":5.03,"y":0.58,"k":"pt"},{"s":"A","p":"l","l":4.99,"y":0.53,"k":"pt"},{"s":"A","p":"l","l":5.06,"y":0.48,"k":"pt"},{"s":"A","p":"l","l":4.93,"y":0.41,"k":"pt"},{"s":"A","p":"l","l":5.01,"y":0.4,"k":"pt"},{"s":"A","p":"l","l":5.04,"y":0.37,"k":"pt"},{"s":"A","p":"l","l":4.97,"y":0.34,"k":"pt"},{"s":"A","p":"l","l":5.07,"y":0.33,"k":"pt"},{"s":"A","p":"l","l":4.98,"y":0.29,"k":"pt"},{"s":"A","p":"l","l":5.05,"y":0.25,"k":"pt"},{"s":"A","p":"l","l":4.94,"y":0.22,"k":"pt"},{"s":"A","p":"l","l":5.02,"y":0.18,"k":"pt"},{"s":"A","p":"l","l":4.96,"y":0.16,"k":"pt"},{"s":"A","p":"l","l":5.0,"y":0.12,"k":"pt"},{"s":"A","p":"l","l":5.06,"y":0.11,"k":"pt"},{"s":"A","p":"l","l":4.95,"y":0.08,"k":"pt"},{"s":"A","p":"l","l":5.03,"y":0.07,"k":"pt"},{"s":"A","p":"l","l":4.99,"y":0.04,"k":"pt"},{"s":"A","p":"l","l":5.04,"y":0.02,"k":"pt"},
{"s":"A","p":"h","l":0.95,"y":0.81,"k":"pt"},{"s":"A","p":"h","l":1.03,"y":0.73,"k":"pt"},{"s":"A","p":"h","l":0.99,"y":0.58,"k":"pt"},{"s":"A","p":"h","l":1.06,"y":0.56,"k":"pt"},{"s":"A","p":"h","l":0.93,"y":0.54,"k":"pt"},{"s":"A","p":"h","l":1.01,"y":0.47,"k":"pt"},{"s":"A","p":"h","l":1.04,"y":0.45,"k":"pt"},{"s":"A","p":"h","l":0.97,"y":0.4,"k":"pt"},{"s":"A","p":"h","l":1.07,"y":0.37,"k":"pt"},{"s":"A","p":"h","l":0.98,"y":0.3,"k":"pt"},{"s":"A","p":"h","l":1.05,"y":0.26,"k":"pt"},{"s":"A","p":"h","l":0.94,"y":0.25,"k":"pt"},{"s":"A","p":"h","l":1.02,"y":0.22,"k":"pt"},{"s":"A","p":"h","l":0.96,"y":0.21,"k":"pt"},{"s":"A","p":"h","l":1.0,"y":0.2,"k":"pt"},{"s":"A","p":"h","l":1.06,"y":0.19,"k":"pt"},{"s":"A","p":"h","l":0.95,"y":0.16,"k":"pt"},{"s":"A","p":"h","l":1.03,"y":0.15,"k":"pt"},{"s":"A","p":"h","l":0.99,"y":0.06,"k":"pt"},{"s":"A","p":"h","l":1.04,"y":0.01,"k":"pt"},
{"s":"A","p":"h","l":1.95,"y":0.77,"k":"pt"},{"s":"A","p":"h","l":2.03,"y":0.76,"k":"pt"},{"s":"A","p":"h","l":1.99,"y":0.63,"k":"pt"},{"s":"A","p":"h","l":2.06,"y":0.61,"k":"pt"},{"s":"A","p":"h","l":1.93,"y":0.59,"k":"pt"},{"s":"A","p":"h","l":2.01,"y":0.53,"k":"pt"},{"s":"A","p":"h","l":2.04,"y":0.52,"k":"pt"},{"s":"A","p":"h","l":1.97,"y":0.48,"k":"pt"},{"s":"A","p":"h","l":2.07,"y":0.47,"k":"pt"},{"s":"A","p":"h","l":1.98,"y":0.45,"k":"pt"},{"s":"A","p":"h","l":2.05,"y":0.42,"k":"pt"},{"s":"A","p":"h","l":1.94,"y":0.4,"k":"pt"},{"s":"A","p":"h","l":2.02,"y":0.36,"k":"pt"},{"s":"A","p":"h","l":1.96,"y":0.31,"k":"pt"},{"s":"A","p":"h","l":2.0,"y":0.3,"k":"pt"},{"s":"A","p":"h","l":2.06,"y":0.25,"k":"pt"},{"s":"A","p":"h","l":1.95,"y":0.22,"k":"pt"},{"s":"A","p":"h","l":2.03,"y":0.2,"k":"pt"},{"s":"A","p":"h","l":1.99,"y":0.13,"k":"pt"},{"s":"A","p":"h","l":2.04,"y":0.1,"k":"pt"},{"s":"A","p":"h","l":1.93,"y":0.05,"k":"pt"},{"s":"A","p":"h","l":2.02,"y":0.03,"k":"pt"},
{"s":"A","p":"h","l":3.95,"y":0.62,"k":"pt"},{"s":"A","p":"h","l":4.03,"y":0.58,"k":"pt"},{"s":"A","p":"h","l":3.99,"y":0.53,"k":"pt"},{"s":"A","p":"h","l":4.06,"y":0.5,"k":"pt"},{"s":"A","p":"h","l":3.93,"y":0.47,"k":"pt"},{"s":"A","p":"h","l":4.01,"y":0.45,"k":"pt"},{"s":"A","p":"h","l":4.04,"y":0.41,"k":"pt"},{"s":"A","p":"h","l":3.97,"y":0.35,"k":"pt"},{"s":"A","p":"h","l":4.07,"y":0.34,"k":"pt"},{"s":"A","p":"h","l":3.98,"y":0.33,"k":"pt"},{"s":"A","p":"h","l":4.05,"y":0.3,"k":"pt"},{"s":"A","p":"h","l":3.94,"y":0.25,"k":"pt"},{"s":"A","p":"h","l":4.02,"y":0.23,"k":"pt"},{"s":"A","p":"h","l":3.96,"y":0.2,"k":"pt"},{"s":"A","p":"h","l":4.0,"y":0.18,"k":"pt"},{"s":"A","p":"h","l":4.06,"y":0.16,"k":"pt"},{"s":"A","p":"h","l":3.95,"y":0.15,"k":"pt"},{"s":"A","p":"h","l":4.03,"y":0.12,"k":"pt"},{"s":"A","p":"h","l":3.99,"y":0.09,"k":"pt"},{"s":"A","p":"h","l":4.04,"y":0.07,"k":"pt"},{"s":"A","p":"h","l":3.93,"y":0.05,"k":"pt"},{"s":"A","p":"h","l":4.02,"y":0.02,"k":"pt"},
{"s":"A","p":"h","l":4.95,"y":0.6,"k":"pt"},{"s":"A","p":"h","l":5.03,"y":0.58,"k":"pt"},{"s":"A","p":"h","l":4.99,"y":0.54,"k":"pt"},{"s":"A","p":"h","l":5.06,"y":0.53,"k":"pt"},{"s":"A","p":"h","l":4.93,"y":0.5,"k":"pt"},{"s":"A","p":"h","l":5.01,"y":0.44,"k":"pt"},{"s":"A","p":"h","l":5.04,"y":0.4,"k":"pt"},{"s":"A","p":"h","l":4.97,"y":0.36,"k":"pt"},{"s":"A","p":"h","l":5.07,"y":0.34,"k":"pt"},{"s":"A","p":"h","l":4.98,"y":0.3,"k":"pt"},{"s":"A","p":"h","l":5.05,"y":0.22,"k":"pt"},{"s":"A","p":"h","l":4.94,"y":0.2,"k":"pt"},{"s":"A","p":"h","l":5.02,"y":0.18,"k":"pt"},{"s":"A","p":"h","l":4.96,"y":0.17,"k":"pt"},{"s":"A","p":"h","l":5.0,"y":0.07,"k":"pt"},{"s":"A","p":"h","l":5.06,"y":0.05,"k":"pt"},{"s":"A","p":"h","l":4.95,"y":0.04,"k":"pt"},
{"s":"Z","p":"o","l":0.95,"y":1.8,"k":"pt"},{"s":"Z","p":"o","l":1.03,"y":1.65,"k":"pt"},{"s":"Z","p":"o","l":0.99,"y":1.35,"k":"pt"},{"s":"Z","p":"o","l":1.06,"y":1.2,"k":"pt"},{"s":"Z","p":"o","l":0.93,"y":1.0,"k":"pt"},{"s":"Z","p":"o","l":1.01,"y":0.9,"k":"pt"},{"s":"Z","p":"o","l":1.04,"y":0.75,"k":"pt"},{"s":"Z","p":"o","l":0.97,"y":0.6,"k":"pt"},{"s":"Z","p":"o","l":1.07,"y":0.5,"k":"pt"},{"s":"Z","p":"o","l":0.98,"y":0.45,"k":"pt"},{"s":"Z","p":"o","l":1.05,"y":0.4,"k":"pt"},{"s":"Z","p":"o","l":0.94,"y":0.3,"k":"pt"},{"s":"Z","p":"o","l":1.02,"y":0.2,"k":"pt"},{"s":"Z","p":"o","l":0.96,"y":0.0,"k":"pt"},{"s":"Z","p":"o","l":1.0,"y":-0.2,"k":"pt"},{"s":"Z","p":"o","l":1.06,"y":-0.4,"k":"pt"},{"s":"Z","p":"o","l":0.95,"y":-0.5,"k":"pt"},{"s":"Z","p":"o","l":1.03,"y":-0.7,"k":"pt"},{"s":"Z","p":"o","l":0.99,"y":-0.9,"k":"pt"},{"s":"Z","p":"o","l":1.04,"y":-1.0,"k":"pt"},{"s":"Z","p":"o","l":0.93,"y":-1.2,"k":"pt"},{"s":"Z","p":"o","l":1.02,"y":-1.4,"k":"pt"},{"s":"Z","p":"o","l":0.97,"y":-1.6,"k":"pt"},{"s":"Z","p":"o","l":1.05,"y":-1.75,"k":"pt"},{"s":"Z","p":"o","l":0.96,"y":-1.85,"k":"pt"},
{"s":"Z","p":"o","l":1.95,"y":2.45,"k":"pt"},{"s":"Z","p":"o","l":2.03,"y":1.6,"k":"pt"},{"s":"Z","p":"o","l":1.99,"y":1.55,"k":"pt"},{"s":"Z","p":"o","l":2.06,"y":1.3,"k":"pt"},{"s":"Z","p":"o","l":1.93,"y":1.25,"k":"pt"},{"s":"Z","p":"o","l":2.01,"y":1.2,"k":"pt"},{"s":"Z","p":"o","l":2.04,"y":0.75,"k":"pt"},{"s":"Z","p":"o","l":1.97,"y":0.6,"k":"pt"},{"s":"Z","p":"o","l":2.07,"y":0.35,"k":"pt"},{"s":"Z","p":"o","l":1.98,"y":0.3,"k":"pt"},{"s":"Z","p":"o","l":2.05,"y":0.0,"k":"pt"},{"s":"Z","p":"o","l":1.94,"y":-0.2,"k":"pt"},{"s":"Z","p":"o","l":2.02,"y":-0.4,"k":"pt"},{"s":"Z","p":"o","l":1.96,"y":-0.6,"k":"pt"},{"s":"Z","p":"o","l":2.0,"y":-0.7,"k":"pt"},{"s":"Z","p":"o","l":2.06,"y":-0.8,"k":"pt"},{"s":"Z","p":"o","l":1.95,"y":-0.9,"k":"pt"},{"s":"Z","p":"o","l":2.03,"y":-1.05,"k":"pt"},{"s":"Z","p":"o","l":1.99,"y":-1.2,"k":"pt"},{"s":"Z","p":"o","l":2.04,"y":-1.4,"k":"pt"},{"s":"Z","p":"o","l":1.93,"y":-1.6,"k":"pt"},{"s":"Z","p":"o","l":2.02,"y":-1.95,"k":"pt"},{"s":"Z","p":"o","l":1.97,"y":-2.2,"k":"pt"},
{"s":"Z","p":"o","l":3.95,"y":2.6,"k":"pt"},{"s":"Z","p":"o","l":4.03,"y":1.65,"k":"pt"},{"s":"Z","p":"o","l":3.99,"y":1.5,"k":"pt"},{"s":"Z","p":"o","l":4.06,"y":1.2,"k":"pt"},{"s":"Z","p":"o","l":3.93,"y":1.1,"k":"pt"},{"s":"Z","p":"o","l":4.01,"y":1.0,"k":"pt"},{"s":"Z","p":"o","l":4.04,"y":0.9,"k":"pt"},{"s":"Z","p":"o","l":3.97,"y":0.5,"k":"pt"},{"s":"Z","p":"o","l":4.07,"y":0.3,"k":"pt"},{"s":"Z","p":"o","l":3.98,"y":0.0,"k":"pt"},{"s":"Z","p":"o","l":4.05,"y":-0.1,"k":"pt"},{"s":"Z","p":"o","l":3.94,"y":-0.3,"k":"pt"},{"s":"Z","p":"o","l":4.02,"y":-0.4,"k":"pt"},{"s":"Z","p":"o","l":3.96,"y":-0.6,"k":"pt"},{"s":"Z","p":"o","l":4.0,"y":-0.7,"k":"pt"},{"s":"Z","p":"o","l":4.06,"y":-0.9,"k":"pt"},{"s":"Z","p":"o","l":3.95,"y":-1.0,"k":"pt"},{"s":"Z","p":"o","l":4.03,"y":-1.1,"k":"pt"},{"s":"Z","p":"o","l":3.99,"y":-1.2,"k":"pt"},{"s":"Z","p":"o","l":4.04,"y":-1.4,"k":"pt"},{"s":"Z","p":"o","l":3.93,"y":-1.5,"k":"pt"},{"s":"Z","p":"o","l":4.02,"y":-1.6,"k":"pt"},{"s":"Z","p":"o","l":3.97,"y":-1.85,"k":"pt"},
{"s":"Z","p":"o","l":4.95,"y":1.7,"k":"pt"},{"s":"Z","p":"o","l":5.03,"y":1.6,"k":"pt"},{"s":"Z","p":"o","l":4.99,"y":1.4,"k":"pt"},{"s":"Z","p":"o","l":5.06,"y":1.3,"k":"pt"},{"s":"Z","p":"o","l":4.93,"y":1.2,"k":"pt"},{"s":"Z","p":"o","l":5.01,"y":0.9,"k":"pt"},{"s":"Z","p":"o","l":5.04,"y":0.7,"k":"pt"},{"s":"Z","p":"o","l":4.97,"y":0.5,"k":"pt"},{"s":"Z","p":"o","l":5.07,"y":0.4,"k":"pt"},{"s":"Z","p":"o","l":4.98,"y":0.3,"k":"pt"},{"s":"Z","p":"o","l":5.05,"y":0.0,"k":"pt"},{"s":"Z","p":"o","l":4.94,"y":-0.2,"k":"pt"},{"s":"Z","p":"o","l":5.02,"y":-0.5,"k":"pt"},{"s":"Z","p":"o","l":4.96,"y":-0.6,"k":"pt"},{"s":"Z","p":"o","l":5.0,"y":-0.7,"k":"pt"},{"s":"Z","p":"o","l":5.06,"y":-0.8,"k":"pt"},{"s":"Z","p":"o","l":4.95,"y":-1.1,"k":"pt"},{"s":"Z","p":"o","l":5.03,"y":-1.2,"k":"pt"},{"s":"Z","p":"o","l":4.99,"y":-1.3,"k":"pt"},{"s":"Z","p":"o","l":5.04,"y":-1.5,"k":"pt"},{"s":"Z","p":"o","l":4.93,"y":-1.7,"k":"pt"},
{"s":"Z","p":"l","l":0.95,"y":1.05,"k":"pt"},{"s":"Z","p":"l","l":1.03,"y":0.95,"k":"pt"},{"s":"Z","p":"l","l":0.99,"y":0.8,"k":"pt"},{"s":"Z","p":"l","l":1.06,"y":0.75,"k":"pt"},{"s":"Z","p":"l","l":0.93,"y":0.6,"k":"pt"},{"s":"Z","p":"l","l":1.01,"y":0.5,"k":"pt"},{"s":"Z","p":"l","l":1.04,"y":0.3,"k":"pt"},{"s":"Z","p":"l","l":0.97,"y":0.2,"k":"pt"},{"s":"Z","p":"l","l":1.07,"y":0.1,"k":"pt"},{"s":"Z","p":"l","l":0.98,"y":-0.1,"k":"pt"},{"s":"Z","p":"l","l":1.05,"y":-0.2,"k":"pt"},{"s":"Z","p":"l","l":0.94,"y":-0.3,"k":"pt"},{"s":"Z","p":"l","l":1.02,"y":-0.4,"k":"pt"},{"s":"Z","p":"l","l":0.96,"y":-0.5,"k":"pt"},{"s":"Z","p":"l","l":1.0,"y":-0.55,"k":"pt"},{"s":"Z","p":"l","l":1.06,"y":-0.7,"k":"pt"},{"s":"Z","p":"l","l":0.95,"y":-0.9,"k":"pt"},
{"s":"Z","p":"l","l":1.95,"y":1.2,"k":"pt"},{"s":"Z","p":"l","l":2.03,"y":1.1,"k":"pt"},{"s":"Z","p":"l","l":1.99,"y":1.05,"k":"pt"},{"s":"Z","p":"l","l":2.06,"y":0.95,"k":"pt"},{"s":"Z","p":"l","l":1.93,"y":0.75,"k":"pt"},{"s":"Z","p":"l","l":2.01,"y":0.6,"k":"pt"},{"s":"Z","p":"l","l":2.04,"y":0.5,"k":"pt"},{"s":"Z","p":"l","l":1.97,"y":0.4,"k":"pt"},{"s":"Z","p":"l","l":2.07,"y":0.2,"k":"pt"},{"s":"Z","p":"l","l":1.98,"y":0.1,"k":"pt"},{"s":"Z","p":"l","l":2.05,"y":0.0,"k":"pt"},{"s":"Z","p":"l","l":1.94,"y":-0.1,"k":"pt"},{"s":"Z","p":"l","l":2.02,"y":-0.3,"k":"pt"},{"s":"Z","p":"l","l":1.96,"y":-0.4,"k":"pt"},{"s":"Z","p":"l","l":2.0,"y":-0.5,"k":"pt"},{"s":"Z","p":"l","l":2.06,"y":-0.6,"k":"pt"},{"s":"Z","p":"l","l":1.95,"y":-0.8,"k":"pt"},{"s":"Z","p":"l","l":2.03,"y":-0.9,"k":"pt"},{"s":"Z","p":"l","l":1.99,"y":-1.0,"k":"pt"},
{"s":"Z","p":"l","l":3.95,"y":1.05,"k":"pt"},{"s":"Z","p":"l","l":4.03,"y":0.95,"k":"pt"},{"s":"Z","p":"l","l":3.99,"y":0.9,"k":"pt"},{"s":"Z","p":"l","l":4.06,"y":0.7,"k":"pt"},{"s":"Z","p":"l","l":3.93,"y":0.2,"k":"pt"},{"s":"Z","p":"l","l":4.01,"y":0.1,"k":"pt"},{"s":"Z","p":"l","l":4.04,"y":0.0,"k":"pt"},{"s":"Z","p":"l","l":3.97,"y":-0.1,"k":"pt"},{"s":"Z","p":"l","l":4.07,"y":-0.2,"k":"pt"},{"s":"Z","p":"l","l":3.98,"y":-0.3,"k":"pt"},{"s":"Z","p":"l","l":4.05,"y":-0.35,"k":"pt"},{"s":"Z","p":"l","l":3.94,"y":-0.45,"k":"pt"},{"s":"Z","p":"l","l":4.02,"y":-0.5,"k":"pt"},{"s":"Z","p":"l","l":3.96,"y":-0.6,"k":"pt"},{"s":"Z","p":"l","l":4.0,"y":-0.7,"k":"pt"},{"s":"Z","p":"l","l":4.06,"y":-0.8,"k":"pt"},{"s":"Z","p":"l","l":3.95,"y":-0.95,"k":"pt"},
{"s":"Z","p":"l","l":4.95,"y":0.85,"k":"pt"},{"s":"Z","p":"l","l":5.03,"y":0.65,"k":"pt"},{"s":"Z","p":"l","l":4.99,"y":0.6,"k":"pt"},{"s":"Z","p":"l","l":5.06,"y":0.5,"k":"pt"},{"s":"Z","p":"l","l":4.93,"y":0.4,"k":"pt"},{"s":"Z","p":"l","l":5.01,"y":0.25,"k":"pt"},{"s":"Z","p":"l","l":5.04,"y":0.15,"k":"pt"},{"s":"Z","p":"l","l":4.97,"y":0.05,"k":"pt"},{"s":"Z","p":"l","l":5.07,"y":-0.05,"k":"pt"},{"s":"Z","p":"l","l":4.98,"y":-0.15,"k":"pt"},{"s":"Z","p":"l","l":5.05,"y":-0.25,"k":"pt"},{"s":"Z","p":"l","l":4.94,"y":-0.35,"k":"pt"},{"s":"Z","p":"l","l":5.02,"y":-0.45,"k":"pt"},{"s":"Z","p":"l","l":4.96,"y":-0.55,"k":"pt"},{"s":"Z","p":"l","l":5.0,"y":-0.6,"k":"pt"},{"s":"Z","p":"l","l":5.06,"y":-0.7,"k":"pt"},{"s":"Z","p":"l","l":4.95,"y":-0.8,"k":"pt"},{"s":"Z","p":"l","l":5.03,"y":-0.9,"k":"pt"},{"s":"Z","p":"l","l":4.99,"y":-0.95,"k":"pt"},
{"s":"Z","p":"h","l":0.99,"y":2.3,"k":"pt"},{"s":"Z","p":"h","l":1.01,"y":1.5,"k":"pt"},{"s":"Z","p":"h","l":0.98,"y":0.6,"k":"pt"},{"s":"Z","p":"h","l":1.02,"y":0.2,"k":"pt"},{"s":"Z","p":"h","l":0.97,"y":0.0,"k":"pt"},{"s":"Z","p":"h","l":1.01,"y":-0.2,"k":"pt"},{"s":"Z","p":"h","l":1.04,"y":-0.35,"k":"pt"},{"s":"Z","p":"h","l":0.97,"y":-0.4,"k":"pt"},{"s":"Z","p":"h","l":1.05,"y":-0.45,"k":"pt"},{"s":"Z","p":"h","l":0.98,"y":-0.45,"k":"pt"},{"s":"Z","p":"h","l":1.03,"y":-0.5,"k":"pt"},{"s":"Z","p":"h","l":0.96,"y":-0.6,"k":"pt"},{"s":"Z","p":"h","l":1.02,"y":-0.7,"k":"pt"},
{"s":"Z","p":"h","l":1.99,"y":2.5,"k":"pt"},{"s":"Z","p":"h","l":2.01,"y":1.5,"k":"pt"},{"s":"Z","p":"h","l":1.98,"y":0.3,"k":"pt"},{"s":"Z","p":"h","l":2.02,"y":0.1,"k":"pt"},{"s":"Z","p":"h","l":1.97,"y":-0.2,"k":"pt"},{"s":"Z","p":"h","l":2.01,"y":-0.4,"k":"pt"},{"s":"Z","p":"h","l":2.04,"y":-0.45,"k":"pt"},{"s":"Z","p":"h","l":1.97,"y":-0.45,"k":"pt"},{"s":"Z","p":"h","l":2.05,"y":-0.5,"k":"pt"},{"s":"Z","p":"h","l":1.98,"y":-0.6,"k":"pt"},{"s":"Z","p":"h","l":2.03,"y":-0.7,"k":"pt"},{"s":"Z","p":"h","l":1.96,"y":-0.8,"k":"pt"},
{"s":"Z","p":"h","l":3.99,"y":1.3,"k":"pt"},{"s":"Z","p":"h","l":4.01,"y":0.55,"k":"pt"},{"s":"Z","p":"h","l":3.98,"y":0.5,"k":"pt"},{"s":"Z","p":"h","l":4.04,"y":-0.2,"k":"pt"},{"s":"Z","p":"h","l":3.95,"y":-0.4,"k":"pt"},{"s":"Z","p":"h","l":4.03,"y":-0.45,"k":"pt"},{"s":"Z","p":"h","l":3.97,"y":-0.45,"k":"pt"},{"s":"Z","p":"h","l":4.05,"y":-0.5,"k":"pt"},{"s":"Z","p":"h","l":3.94,"y":-0.6,"k":"pt"},{"s":"Z","p":"h","l":4.02,"y":-0.7,"k":"pt"},
{"s":"Z","p":"h","l":4.99,"y":1.5,"k":"pt"},{"s":"Z","p":"h","l":5.01,"y":1.3,"k":"pt"},{"s":"Z","p":"h","l":4.98,"y":1.15,"k":"pt"},{"s":"Z","p":"h","l":5.03,"y":0.6,"k":"pt"},{"s":"Z","p":"h","l":4.97,"y":0.5,"k":"pt"},{"s":"Z","p":"h","l":5.02,"y":0.4,"k":"pt"},{"s":"Z","p":"h","l":5.04,"y":0.3,"k":"pt"},{"s":"Z","p":"h","l":4.97,"y":0.2,"k":"pt"},{"s":"Z","p":"h","l":5.05,"y":0.1,"k":"pt"},{"s":"Z","p":"h","l":4.98,"y":0.0,"k":"pt"},{"s":"Z","p":"h","l":5.05,"y":-0.1,"k":"pt"},{"s":"Z","p":"h","l":4.94,"y":-0.3,"k":"pt"},{"s":"Z","p":"h","l":5.02,"y":-0.45,"k":"pt"},{"s":"Z","p":"h","l":4.96,"y":-0.45,"k":"pt"},{"s":"Z","p":"h","l":5.0,"y":-0.5,"k":"pt"},{"s":"Z","p":"h","l":5.06,"y":-0.7,"k":"pt"},{"s":"Z","p":"h","l":4.95,"y":-0.8,"k":"pt"},{"s":"Z","p":"h","l":5.03,"y":-0.85,"k":"pt"}
]},
"config": {
  "font": "Liberation Sans",
  "view": {"stroke": null},
  "axisY": {"domainColor": "black", "tickColor": "black", "tickSize": 6, "labelAngle": 270, "labelAlign": "center", "labelBaseline": "bottom", "labelFontSize": 15, "labelColor": "black", "labelPadding": 3, "grid": false, "labelOverlap": false, "labelFont": "Liberation Sans", "labelFlush": false, "title": null},
  "axisX": {"domain": false, "ticks": false, "tickSize": 0, "grid": false, "labelFontSize": 18, "labelColor": "black", "labelPadding": 13, "labelOverlap": false, "labelFlush": false, "labelAngle": 0, "labelFont": "Liberation Sans", "title": null},
  "title": {"font": "Liberation Sans", "fontSize": 19, "fontWeight": "bold", "color": "black", "offset": 8, "anchor": "middle", "frame": "group"},
  "legend": {"orient": "none", "legendX": 172, "legendY": 717, "direction": "horizontal", "title": null, "symbolType": "square", "symbolSize": 441, "symbolStrokeColor": "black", "symbolStrokeWidth": 1, "symbolOpacity": 1, "labelFontSize": 23.5, "labelFont": "Liberation Sans", "labelColor": "black", "labelOffset": 11, "columnPadding": 11, "labelLimit": 400, "padding": 0}
},
"spacing": 54,
"vconcat": [
{
 "title": {"text": "mean AT scores", "fontSize": 23.5, "offset": 26.5, "frame": "bounds", "dx": 16},
 "bounds": "flush",
 "spacing": 54.5,
 "hconcat": [
  {"title": "original tasks", "width": 234, "height": 232, "data": {"name": "d"},
   "transform": [{"filter": "datum.s=='A' && datum.p=='o'"}],
   "encoding": {
    "x": {"field": "l", "type": "quantitative", "scale": {"domain": [0.3, 5.7], "nice": false, "zero": false}, "axis": {"values": [1.5, 4.5], "labelExpr": "datum.value < 3 ? 'inidividual judge' : 'dyad judge'", "title": null}},
    "y": {"field": "y", "type": "quantitative", "scale": {"domain": [0, 1], "nice": false, "zero": false}, "axis": {"values": [0, 0.2, 0.4, 0.6, 0.8, 1], "format": ".1f", "title": null}}
   },
   "layer": [
    {"transform": [{"filter": {"field": "k", "oneOf": ["o", "e", "m", "i"]}}], "mark": {"type": "area", "orient": "horizontal", "interpolate": "monotone", "opacity": 1}, "encoding": {"x2": {"field": "r"}, "color": {"field": "a", "type": "nominal", "scale": {"domain": ["i", "d"], "range": ["#999999", "#e5e5e5"]}, "legend": {"labelExpr": "datum.label == 'i' ? 'individual advisor' : 'dyad advisor'"}}, "detail": {"field": "c", "type": "nominal"}}},
    {"transform": [{"filter": "datum.k=='pt'"}], "mark": {"type": "circle", "size": 12, "color": "#333333", "opacity": 0.5}, "encoding": {}},
    {"transform": [{"filter": {"field": "k", "oneOf": ["e", "m", "i"]}}], "mark": {"type": "area", "orient": "horizontal", "interpolate": "monotone", "fill": "white", "fillOpacity": 0.85, "strokeWidth": 0}, "encoding": {"x2": {"field": "r"}, "detail": {"field": "c", "type": "nominal"}}},
    {"transform": [{"filter": "datum.k=='e'"}], "mark": {"type": "rule", "color": "#222222", "strokeWidth": 1}, "encoding": {"x2": {"field": "r"}}},
    {"transform": [{"filter": "datum.k=='m'"}], "mark": {"type": "rule", "color": "black", "strokeWidth": 5.5}, "encoding": {"x2": {"field": "r"}}},
    {"transform": [{"filter": "datum.k=='z'"}], "mark": {"type": "rule", "color": "black", "strokeWidth": 2.5}, "encoding": {"x2": {"field": "r"}}},
    {"transform": [{"filter": {"field": "k", "oneOf": ["o", "e", "m", "i"]}}], "mark": {"type": "area", "orient": "horizontal", "interpolate": "monotone", "fillOpacity": 0, "stroke": "black", "strokeWidth": 1}, "encoding": {"x2": {"field": "r"}, "detail": {"field": "c", "type": "nominal"}}},
    {"transform": [{"aggregate": [{"op": "count", "as": "n"}]}], "mark": {"type": "rule", "color": "black", "strokeWidth": 1}, "encoding": {"x": {"datum": 0.3}, "x2": {"datum": 5.7}, "y": {"datum": 0}}}
   ]},
  {"title": "new tasks - low bias", "width": 234, "height": 232, "data": {"name": "d"},
   "transform": [{"filter": "datum.s=='A' && datum.p=='l'"}],
   "encoding": {
    "x": {"field": "l", "type": "quantitative", "scale": {"domain": [0.3, 5.7], "nice": false, "zero": false}, "axis": {"values": [1.5, 4.5], "labelExpr": "datum.value < 3 ? 'inidividual judge' : 'dyad judge'", "title": null}},
    "y": {"field": "y", "type": "quantitative", "scale": {"domain": [0, 1], "nice": false, "zero": false}, "axis": {"values": [0, 0.2, 0.4, 0.6, 0.8, 1], "format": ".1f", "title": null}}
   },
   "layer": [
    {"transform": [{"filter": {"field": "k", "oneOf": ["o", "e", "m", "i"]}}], "mark": {"type": "area", "orient": "horizontal", "interpolate": "monotone", "opacity": 1}, "encoding": {"x2": {"field": "r"}, "color": {"field": "a", "type": "nominal", "scale": {"domain": ["i", "d"], "range": ["#999999", "#e5e5e5"]}, "legend": {"labelExpr": "datum.label == 'i' ? 'individual advisor' : 'dyad advisor'"}}, "detail": {"field": "c", "type": "nominal"}}},
    {"transform": [{"filter": "datum.k=='pt'"}], "mark": {"type": "circle", "size": 12, "color": "#333333", "opacity": 0.5}, "encoding": {}},
    {"transform": [{"filter": {"field": "k", "oneOf": ["e", "m", "i"]}}], "mark": {"type": "area", "orient": "horizontal", "interpolate": "monotone", "fill": "white", "fillOpacity": 0.85, "strokeWidth": 0}, "encoding": {"x2": {"field": "r"}, "detail": {"field": "c", "type": "nominal"}}},
    {"transform": [{"filter": "datum.k=='e'"}], "mark": {"type": "rule", "color": "#222222", "strokeWidth": 1}, "encoding": {"x2": {"field": "r"}}},
    {"transform": [{"filter": "datum.k=='m'"}], "mark": {"type": "rule", "color": "black", "strokeWidth": 5.5}, "encoding": {"x2": {"field": "r"}}},
    {"transform": [{"filter": "datum.k=='z'"}], "mark": {"type": "rule", "color": "black", "strokeWidth": 2.5}, "encoding": {"x2": {"field": "r"}}},
    {"transform": [{"filter": {"field": "k", "oneOf": ["o", "e", "m", "i"]}}], "mark": {"type": "area", "orient": "horizontal", "interpolate": "monotone", "fillOpacity": 0, "stroke": "black", "strokeWidth": 1}, "encoding": {"x2": {"field": "r"}, "detail": {"field": "c", "type": "nominal"}}},
    {"transform": [{"aggregate": [{"op": "count", "as": "n"}]}], "mark": {"type": "rule", "color": "black", "strokeWidth": 1}, "encoding": {"x": {"datum": 0.3}, "x2": {"datum": 5.7}, "y": {"datum": 0}}}
   ]},
  {"title": "new tasks - high bias", "width": 234, "height": 232, "data": {"name": "d"},
   "transform": [{"filter": "datum.s=='A' && datum.p=='h'"}],
   "encoding": {
    "x": {"field": "l", "type": "quantitative", "scale": {"domain": [0.3, 5.7], "nice": false, "zero": false}, "axis": {"values": [1.5, 4.5], "labelExpr": "datum.value < 3 ? 'inidividual judge' : 'dyad judge'", "title": null}},
    "y": {"field": "y", "type": "quantitative", "scale": {"domain": [0, 1], "nice": false, "zero": false}, "axis": {"values": [0, 0.2, 0.4, 0.6, 0.8, 1], "format": ".1f", "title": null}}
   },
   "layer": [
    {"transform": [{"filter": {"field": "k", "oneOf": ["o", "e", "m", "i"]}}], "mark": {"type": "area", "orient": "horizontal", "interpolate": "monotone", "opacity": 1}, "encoding": {"x2": {"field": "r"}, "color": {"field": "a", "type": "nominal", "scale": {"domain": ["i", "d"], "range": ["#999999", "#e5e5e5"]}, "legend": {"labelExpr": "datum.label == 'i' ? 'individual advisor' : 'dyad advisor'"}}, "detail": {"field": "c", "type": "nominal"}}},
    {"transform": [{"filter": "datum.k=='pt'"}], "mark": {"type": "circle", "size": 12, "color": "#333333", "opacity": 0.5}, "encoding": {}},
    {"transform": [{"filter": {"field": "k", "oneOf": ["e", "m", "i"]}}], "mark": {"type": "area", "orient": "horizontal", "interpolate": "monotone", "fill": "white", "fillOpacity": 0.85, "strokeWidth": 0}, "encoding": {"x2": {"field": "r"}, "detail": {"field": "c", "type": "nominal"}}},
    {"transform": [{"filter": "datum.k=='e'"}], "mark": {"type": "rule", "color": "#222222", "strokeWidth": 1}, "encoding": {"x2": {"field": "r"}}},
    {"transform": [{"filter": "datum.k=='m'"}], "mark": {"type": "rule", "color": "black", "strokeWidth": 5.5}, "encoding": {"x2": {"field": "r"}}},
    {"transform": [{"filter": "datum.k=='z'"}], "mark": {"type": "rule", "color": "black", "strokeWidth": 2.5}, "encoding": {"x2": {"field": "r"}}},
    {"transform": [{"filter": {"field": "k", "oneOf": ["o", "e", "m", "i"]}}], "mark": {"type": "area", "orient": "horizontal", "interpolate": "monotone", "fillOpacity": 0, "stroke": "black", "strokeWidth": 1}, "encoding": {"x2": {"field": "r"}, "detail": {"field": "c", "type": "nominal"}}},
    {"transform": [{"aggregate": [{"op": "count", "as": "n"}]}], "mark": {"type": "rule", "color": "black", "strokeWidth": 1}, "encoding": {"x": {"datum": 0.3}, "x2": {"datum": 5.7}, "y": {"datum": 0}}}
   ]}
 ]
},
{
 "title": {"text": "mean initial accuracy (z-standardized)", "fontSize": 23.5, "offset": 25, "frame": "bounds", "dx": 16},
 "bounds": "flush",
 "spacing": 54.5,
 "hconcat": [
  {"title": "original tasks", "width": 234, "height": 233, "data": {"name": "d"},
   "transform": [{"filter": "datum.s=='Z' && datum.p=='o'"}],
   "encoding": {
    "x": {"field": "l", "type": "quantitative", "scale": {"domain": [0.3, 5.7], "nice": false, "zero": false}, "axis": {"values": [1.5, 4.5], "labelExpr": "datum.value < 3 ? 'inidividual judge' : 'dyad judge'", "title": null, "labelPadding": 10}},
    "y": {"field": "y", "type": "quantitative", "scale": {"domain": [-3, 3], "nice": false, "zero": false}, "axis": {"values": [-3, -2.5, -2, -1.5, -1, -0.5, 0, 0.5, 1, 1.5, 2, 2.5, 3], "labelExpr": "indexof([3, 2, 1, 0], datum.value) >= 0 ? format(datum.value, '.1f') : datum.value == -1.5 ? '-1.5' : datum.value == -3 ? '-3.0' : ''", "title": null}}
   },
   "layer": [
    {"transform": [{"filter": {"field": "k", "oneOf": ["o", "e", "m", "i"]}}], "mark": {"type": "area", "orient": "horizontal", "interpolate": "monotone", "opacity": 1}, "encoding": {"x2": {"field": "r"}, "color": {"field": "a", "type": "nominal", "scale": {"domain": ["i", "d"], "range": ["#999999", "#e5e5e5"]}, "legend": {"labelExpr": "datum.label == 'i' ? 'individual advisor' : 'dyad advisor'"}}, "detail": {"field": "c", "type": "nominal"}}},
    {"transform": [{"filter": "datum.k=='pt'"}], "mark": {"type": "circle", "size": 12, "color": "#333333", "opacity": 0.5}, "encoding": {}},
    {"transform": [{"filter": {"field": "k", "oneOf": ["e", "m", "i"]}}], "mark": {"type": "area", "orient": "horizontal", "interpolate": "monotone", "fill": "white", "fillOpacity": 0.85, "strokeWidth": 0}, "encoding": {"x2": {"field": "r"}, "detail": {"field": "c", "type": "nominal"}}},
    {"transform": [{"filter": "datum.k=='e'"}], "mark": {"type": "rule", "color": "#222222", "strokeWidth": 1}, "encoding": {"x2": {"field": "r"}}},
    {"transform": [{"filter": "datum.k=='m'"}], "mark": {"type": "rule", "color": "black", "strokeWidth": 5.5}, "encoding": {"x2": {"field": "r"}}},
    {"transform": [{"filter": {"field": "k", "oneOf": ["o", "e", "m", "i"]}}], "mark": {"type": "area", "orient": "horizontal", "interpolate": "monotone", "fillOpacity": 0, "stroke": "black", "strokeWidth": 1}, "encoding": {"x2": {"field": "r"}, "detail": {"field": "c", "type": "nominal"}}},
    {"transform": [{"aggregate": [{"op": "count", "as": "n"}]}], "mark": {"type": "rule", "color": "black", "strokeWidth": 1}, "encoding": {"x": {"datum": 0.3}, "x2": {"datum": 5.7}, "y": {"datum": 0}}}
   ]},
  {"title": "new tasks - low bias", "width": 234, "height": 233, "data": {"name": "d"},
   "transform": [{"filter": "datum.s=='Z' && datum.p=='l'"}],
   "encoding": {
    "x": {"field": "l", "type": "quantitative", "scale": {"domain": [0.3, 5.7], "nice": false, "zero": false}, "axis": {"values": [1.5, 4.5], "labelExpr": "datum.value < 3 ? 'inidividual judge' : 'dyad judge'", "title": null, "labelPadding": 10}},
    "y": {"field": "y", "type": "quantitative", "scale": {"domain": [-3, 3], "nice": false, "zero": false}, "axis": {"values": [-3, -2.5, -2, -1.5, -1, -0.5, 0, 0.5, 1, 1.5, 2, 2.5, 3], "labelExpr": "indexof([3, 2, 1, 0], datum.value) >= 0 ? format(datum.value, '.1f') : datum.value == -1.5 ? '-1.5' : datum.value == -3 ? '-3.0' : ''", "title": null}}
   },
   "layer": [
    {"transform": [{"filter": {"field": "k", "oneOf": ["o", "e", "m", "i"]}}], "mark": {"type": "area", "orient": "horizontal", "interpolate": "monotone", "opacity": 1}, "encoding": {"x2": {"field": "r"}, "color": {"field": "a", "type": "nominal", "scale": {"domain": ["i", "d"], "range": ["#999999", "#e5e5e5"]}, "legend": {"labelExpr": "datum.label == 'i' ? 'individual advisor' : 'dyad advisor'"}}, "detail": {"field": "c", "type": "nominal"}}},
    {"transform": [{"filter": "datum.k=='pt'"}], "mark": {"type": "circle", "size": 12, "color": "#333333", "opacity": 0.5}, "encoding": {}},
    {"transform": [{"filter": {"field": "k", "oneOf": ["e", "m", "i"]}}], "mark": {"type": "area", "orient": "horizontal", "interpolate": "monotone", "fill": "white", "fillOpacity": 0.85, "strokeWidth": 0}, "encoding": {"x2": {"field": "r"}, "detail": {"field": "c", "type": "nominal"}}},
    {"transform": [{"filter": "datum.k=='e'"}], "mark": {"type": "rule", "color": "#222222", "strokeWidth": 1}, "encoding": {"x2": {"field": "r"}}},
    {"transform": [{"filter": "datum.k=='m'"}], "mark": {"type": "rule", "color": "black", "strokeWidth": 5.5}, "encoding": {"x2": {"field": "r"}}},
    {"transform": [{"filter": {"field": "k", "oneOf": ["o", "e", "m", "i"]}}], "mark": {"type": "area", "orient": "horizontal", "interpolate": "monotone", "fillOpacity": 0, "stroke": "black", "strokeWidth": 1}, "encoding": {"x2": {"field": "r"}, "detail": {"field": "c", "type": "nominal"}}},
    {"transform": [{"aggregate": [{"op": "count", "as": "n"}]}], "mark": {"type": "rule", "color": "black", "strokeWidth": 1}, "encoding": {"x": {"datum": 0.3}, "x2": {"datum": 5.7}, "y": {"datum": 0}}}
   ]},
  {"title": "new tasks - high bias", "width": 234, "height": 233, "data": {"name": "d"},
   "transform": [{"filter": "datum.s=='Z' && datum.p=='h'"}],
   "encoding": {
    "x": {"field": "l", "type": "quantitative", "scale": {"domain": [0.3, 5.7], "nice": false, "zero": false}, "axis": {"values": [1.5, 4.5], "labelExpr": "datum.value < 3 ? 'inidividual judge' : 'dyad judge'", "title": null, "labelPadding": 10}},
    "y": {"field": "y", "type": "quantitative", "scale": {"domain": [-3, 3], "nice": false, "zero": false}, "axis": {"values": [-3, -2.5, -2, -1.5, -1, -0.5, 0, 0.5, 1, 1.5, 2, 2.5, 3], "labelExpr": "indexof([3, 2, 1, 0], datum.value) >= 0 ? format(datum.value, '.1f') : datum.value == -1.5 ? '-1.5' : datum.value == -3 ? '-3.0' : ''", "title": null}}
   },
   "layer": [
    {"transform": [{"filter": {"field": "k", "oneOf": ["o", "e", "m", "i"]}}], "mark": {"type": "area", "orient": "horizontal", "interpolate": "monotone", "opacity": 1}, "encoding": {"x2": {"field": "r"}, "color": {"field": "a", "type": "nominal", "scale": {"domain": ["i", "d"], "range": ["#999999", "#e5e5e5"]}, "legend": {"labelExpr": "datum.label == 'i' ? 'individual advisor' : 'dyad advisor'"}}, "detail": {"field": "c", "type": "nominal"}}},
    {"transform": [{"filter": "datum.k=='pt'"}], "mark": {"type": "circle", "size": 12, "color": "#333333", "opacity": 0.5}, "encoding": {}},
    {"transform": [{"filter": {"field": "k", "oneOf": ["e", "m", "i"]}}], "mark": {"type": "area", "orient": "horizontal", "interpolate": "monotone", "fill": "white", "fillOpacity": 0.85, "strokeWidth": 0}, "encoding": {"x2": {"field": "r"}, "detail": {"field": "c", "type": "nominal"}}},
    {"transform": [{"filter": "datum.k=='e'"}], "mark": {"type": "rule", "color": "#222222", "strokeWidth": 1}, "encoding": {"x2": {"field": "r"}}},
    {"transform": [{"filter": "datum.k=='m'"}], "mark": {"type": "rule", "color": "black", "strokeWidth": 5.5}, "encoding": {"x2": {"field": "r"}}},
    {"transform": [{"filter": {"field": "k", "oneOf": ["o", "e", "m", "i"]}}], "mark": {"type": "area", "orient": "horizontal", "interpolate": "monotone", "fillOpacity": 0, "stroke": "black", "strokeWidth": 1}, "encoding": {"x2": {"field": "r"}, "detail": {"field": "c", "type": "nominal"}}},
    {"transform": [{"aggregate": [{"op": "count", "as": "n"}]}], "mark": {"type": "rule", "color": "black", "strokeWidth": 1}, "encoding": {"x": {"datum": 0.3}, "x2": {"datum": 5.7}, "y": {"datum": 0}}}
   ]}
 ]
}
]
}
